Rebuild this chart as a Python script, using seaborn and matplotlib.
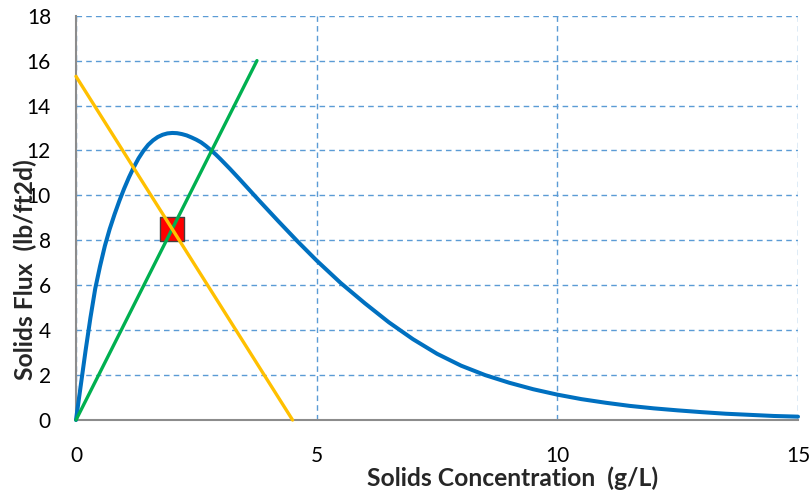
import matplotlib
matplotlib.use("Agg")
import matplotlib.pyplot as plt
import seaborn as sns
import pandas as pd
from matplotlib.ticker import MultipleLocator

# Blue settling flux curve
conc = [0, 0.1, 0.2, 0.3, 0.4, 0.5, 0.6, 0.7, 0.8, 0.9, 1.0, 1.1, 1.2, 1.3, 1.4,
        1.5, 1.6, 1.7, 1.8, 1.9, 2.0, 2.1, 2.2, 2.3, 2.4, 2.5, 2.6, 2.7, 2.8, 2.9,
        3.0, 3.2, 3.4, 3.6, 3.8, 4.0, 4.2, 4.4, 4.6, 4.8, 5.0, 5.5, 6.0, 6.5, 7.0,
        7.5, 8.0, 8.5, 9.0, 9.5, 10.0, 10.5, 11.0, 11.5, 12.0, 12.5, 13.0, 13.5,
        14.0, 14.5, 15.0]
flux = [0, 1.55, 3.1, 4.55, 5.85, 6.85, 7.75, 8.5, 9.15, 9.75, 10.3, 10.8, 11.25,
        11.65, 11.98, 12.25, 12.45, 12.6, 12.7, 12.76, 12.78, 12.77, 12.73, 12.67,
        12.58, 12.48, 12.36, 12.2, 12.02, 11.83, 11.62, 11.18, 10.72, 10.25, 9.78,
        9.32, 8.86, 8.41, 7.96, 7.53, 7.1, 6.1, 5.2, 4.35, 3.6, 2.95, 2.42, 2.0,
        1.66, 1.37, 1.13, 0.93, 0.77, 0.63, 0.52, 0.43, 0.35, 0.28, 0.23, 0.18, 0.15]
# Green underflow line
green_x = [0, 3.76]
green_y = [0, 16]
# Yellow operating line
yellow_x = [0, 4.5]
yellow_y = [15.3, 0]
# Operating point
op_x = [2.0]
op_y = [8.5]

x_ticks = [0, 5, 10, 15]
y_ticks = [0, 2, 4, 6, 8, 10, 12, 14, 16, 18]

sns.set_style("white")
plt.rcParams['font.family'] = ['Lato', 'DejaVu Sans']

fig = plt.figure(figsize=(8.1, 4.92), dpi=100)
ax = fig.add_axes([0.0938, 0.1463, 0.8914, 0.8218])

blue = pd.DataFrame({"x": conc, "y": flux})
green = pd.DataFrame({"x": green_x, "y": green_y})
yellow = pd.DataFrame({"x": yellow_x, "y": yellow_y})
op = pd.DataFrame({"x": op_x, "y": op_y})

sns.lineplot(data=blue, x="x", y="y", ax=ax, color="#0070C0", linewidth=2.9,
             sort=False, estimator=None, clip_on=False, zorder=3)
sns.lineplot(data=green, x="x", y="y", ax=ax, color="#00B050", linewidth=2.4,
             sort=False, estimator=None, clip_on=False, zorder=4)
sns.lineplot(data=yellow, x="x", y="y", ax=ax, color="#FFC000", linewidth=2.4,
             sort=False, estimator=None, clip_on=False, zorder=5)
sns.scatterplot(data=op, x="x", y="y", ax=ax, marker="s", s=17.5 ** 2,
                color="#FF0000", edgecolor="#404040", linewidth=1.0, zorder=3.5,
                clip_on=False)

ax.set_xlim(0, 15)
ax.set_ylim(0, 18)
ax.set_xticks(x_ticks)
ax.set_yticks(y_ticks)
ax.xaxis.set_minor_locator(MultipleLocator(1))
ax.yaxis.set_minor_locator(MultipleLocator(0.4))

ax.grid(True, which="major", color="#5B9BD5", linestyle=(0, (4, 3)), linewidth=1.0)
ax.set_axisbelow(True)

for s in ["top", "right"]:
    ax.spines[s].set_visible(False)
for s in ["left", "bottom"]:
    ax.spines[s].set_color("#8C8C8C")
    ax.spines[s].set_linewidth(1.5)

ax.tick_params(axis="both", which="major", direction="in", length=6, width=1.5,
               color="#8C8C8C", labelsize=15, labelcolor="black")
ax.tick_params(axis="both", which="minor", direction="in", length=5, width=1.2,
               color="#8C8C8C")
ax.tick_params(axis="x", which="major", pad=19)
ax.tick_params(axis="y", which="major", pad=18)

ax.set_xlabel("Solids Concentration  (g/L)", fontsize=17.7, fontweight="bold")
ax.xaxis.set_label_coords(0.605, -0.144)
ax.xaxis.label.set_va("center")
ax.set_ylabel("Solids Flux  (lb/ft2d)", fontsize=17.7, fontweight="bold")
ax.yaxis.set_label_coords(-0.0706, 0.371)
ax.yaxis.label.set_va("center")

fig.savefig("out.png", dpi=100)
